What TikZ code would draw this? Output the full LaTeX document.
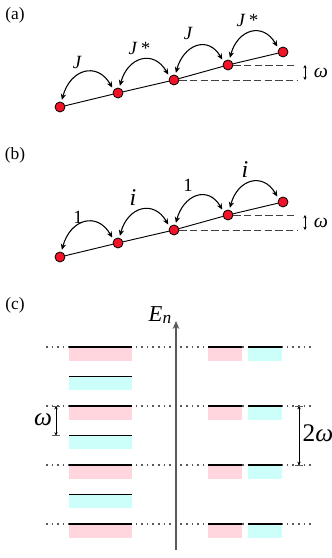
\documentclass[tikz,border=0pt]{standalone}
\usepackage{fontspec}
\setmainfont{Liberation Serif}
\usetikzlibrary{arrows.meta}
\definecolor{sitered}{RGB}{240,20,40}
\definecolor{levpink}{RGB}{255,214,222}
\definecolor{levcyan}{RGB}{204,255,250}
\definecolor{axgray}{RGB}{90,90,90}

\begin{document}
\begin{tikzpicture}[x=0.75pt, y=0.75pt,
    site/.style={circle, draw, fill=sitered, minimum size=7.5pt, inner sep=0pt, line width=0.6pt},
    hop/.style={{Stealth[length=4.5pt,width=4pt]}-{Stealth[length=4.5pt,width=4pt]}, line width=0.8pt, out=75, in=120, looseness=1.6, shorten <=1.5pt, shorten >=2pt},
    chain/.style={line width=0.7pt},
    tilt/.style={dash pattern=on 5.5pt off 2.5pt, black!75, line width=0.7pt},
    gap/.style={{Stealth[length=2.5pt,width=2.5pt]}-{Stealth[length=2.5pt,width=2.5pt]}, line width=0.5pt},
    hoplab/.style={font=\fontsize{14}{16}\selectfont\itshape},
    numlab/.style={font=\fontsize{14}{16}\selectfont},
    ilab/.style={font=\fontsize{18}{20}\selectfont\itshape},
    panel/.style={font=\fontsize{13}{15}\selectfont},
    wlab/.style={font=\fontsize{15}{17}\selectfont\itshape},
    bigwlab/.style={font=\fontsize{19}{21}\selectfont},
    bar/.style={rectangle, minimum height=10.5pt, inner sep=0pt, outer sep=0pt, anchor=north},
    wide/.style={bar, minimum width=47.25pt},
    narrow/.style={bar, minimum width=25.5pt},
    level/.style={line width=1.2pt},
    levdot/.style={axgray, line width=0.8pt, dash pattern=on 1.2pt off 3pt},
    axis/.style={-{Stealth[length=6pt,width=5pt]}, axgray, line width=0.8pt},
    tick/.style={axgray, line width=0.6pt}
]
  \useasboundingbox (0,0) rectangle (332,558);

  % (a) tilted chain with J, J*
  \node[panel] (pa) at (15,543) {(a)};
  \node[site] (a1) at (60,451) {};
  \node[site] (a2) at (118,465) {};
  \node[site] (a3) at (174,478) {};
  \node[site] (a4) at (228,493) {};
  \node[site] (a5) at (283,506) {};
  \draw[chain] (a1) -- (a2);
  \draw[chain] (a2) -- (a3);
  \draw[chain] (a3) -- (a4);
  \draw[chain] (a4) -- (a5);
  \draw[hop] (a1.75) to (a2.145);
  \draw[hop] (a2.75) to (a3.145);
  \draw[hop] (a3.75) to (a4.145);
  \draw[hop] (a4.75) to (a5.145);
  \node[hoplab] (ja1) at (77,496) {J};
  \node[hoplab] (ja2) at (139,510) {J\,*};
  \node[hoplab] (ja3) at (188,525) {J};
  \node[hoplab] (ja4) at (247,538) {J\,*};
  \coordinate (ea3) at (297,478);
  \coordinate (ea4) at (297,493);
  \coordinate (ga3) at (305,478);
  \coordinate (ga4) at (305,493);
  \draw[tilt] (a3.east) -- (ea3);
  \draw[tilt] (a4.east) -- (ea4);
  \draw[gap] (ga3) -- (ga4);
  \node[wlab] (wa) at (321,485) {ω};

  % (b) tilted chain with 1, i
  \node[panel] (pb) at (15,403) {(b)};
  \node[site] (b1) at (60,301) {};
  \node[site] (b2) at (118,315) {};
  \node[site] (b3) at (174,328) {};
  \node[site] (b4) at (228,343) {};
  \node[site] (b5) at (283,356) {};
  \draw[chain] (b1) -- (b2);
  \draw[chain] (b2) -- (b3);
  \draw[chain] (b3) -- (b4);
  \draw[chain] (b4) -- (b5);
  \draw[hop] (b1.75) to (b2.145);
  \draw[hop] (b2.75) to (b3.145);
  \draw[hop] (b3.75) to (b4.145);
  \draw[hop] (b4.75) to (b5.145);
  \node[numlab] (jb1) at (78,341) {1};
  \node[ilab] (jb2) at (133,360) {i};
  \node[numlab] (jb3) at (188,373) {1};
  \node[ilab] (jb4) at (245,388) {i};
  \coordinate (eb3) at (297,328);
  \coordinate (eb4) at (297,343);
  \coordinate (gb3) at (305,328);
  \coordinate (gb4) at (305,343);
  \draw[tilt] (b3.east) -- (eb3);
  \draw[tilt] (b4.east) -- (eb4);
  \draw[gap] (gb3) -- (gb4);
  \node[wlab] (wb) at (321,335) {ω};

  % (c) quasienergy levels
  \node[panel] (pc) at (15,253) {(c)};
  \draw[levdot] (46,211) -- (313,211);
  \draw[levdot] (46,152) -- (313,152);
  \draw[levdot] (46,93) -- (313,93);
  \draw[levdot] (46,34) -- (313,34);
  \coordinate (ax0) at (176,8);
  \coordinate (ax1) at (176,237);
  \draw[axis] (ax0) -- (ax1);
  \node[font=\fontsize{17}{19}\selectfont\itshape, inner sep=1pt] (en) at (160,243) {E\raisebox{-1.5pt}{\fontsize{13}{15}\selectfont n}};

  \node[wide, fill=levpink] (L0) at (100.5,211) {};
  \node[wide, fill=levcyan] (L1) at (100.5,181.5) {};
  \node[wide, fill=levpink] (L2) at (100.5,152) {};
  \node[wide, fill=levcyan] (L3) at (100.5,122.5) {};
  \node[wide, fill=levpink] (L4) at (100.5,93) {};
  \node[wide, fill=levcyan] (L5) at (100.5,63.5) {};
  \node[wide, fill=levpink] (L6) at (100.5,34) {};
  \draw[level] (L0.north west) -- (L0.north east);
  \draw[level] (L1.north west) -- (L1.north east);
  \draw[level] (L2.north west) -- (L2.north east);
  \draw[level] (L3.north west) -- (L3.north east);
  \draw[level] (L4.north west) -- (L4.north east);
  \draw[level] (L5.north west) -- (L5.north east);
  \draw[level] (L6.north west) -- (L6.north east);

  \node[narrow, fill=levpink] (P0) at (225,211) {};
  \node[narrow, fill=levcyan] (C0) at (265,211) {};
  \node[narrow, fill=levpink] (P2) at (225,152) {};
  \node[narrow, fill=levcyan] (C2) at (265,152) {};
  \node[narrow, fill=levpink] (P4) at (225,93) {};
  \node[narrow, fill=levcyan] (C4) at (265,93) {};
  \node[narrow, fill=levpink] (P6) at (225,34) {};
  \node[narrow, fill=levcyan] (C6) at (265,34) {};
  \draw[level] (P0.north west) -- (P0.north east);
  \draw[level] (C0.north west) -- (C0.north east);
  \draw[level] (P2.north west) -- (P2.north east);
  \draw[level] (C2.north west) -- (C2.north east);
  \draw[level] (P4.north west) -- (P4.north east);
  \draw[level] (C4.north west) -- (C4.north east);
  \draw[level] (P6.north west) -- (P6.north east);
  \draw[level] (C6.north west) -- (C6.north east);

  % spacing markers
  \coordinate (wl0) at (56,152);
  \coordinate (wl1) at (56,122.5);
  \draw[gap, line width=0.6pt] (wl0) -- (wl1);
  \draw[tick] (52,152) -- (60,152);
  \draw[tick] (52,122.5) -- (60,122.5);
  \node[bigwlab, font=\fontsize{19}{21}\selectfont\itshape] (wc) at (43,138) {ω};
  \coordinate (wr0) at (299,152);
  \coordinate (wr1) at (299,93);
  \draw[gap, line width=0.6pt] (wr0) -- (wr1);
  \draw[tick] (295,152) -- (303,152);
  \draw[tick] (295,93) -- (303,93);
  \node[bigwlab] (w2c) at (318,125) {2\textit{ω}};
\end{tikzpicture}
\end{document}
